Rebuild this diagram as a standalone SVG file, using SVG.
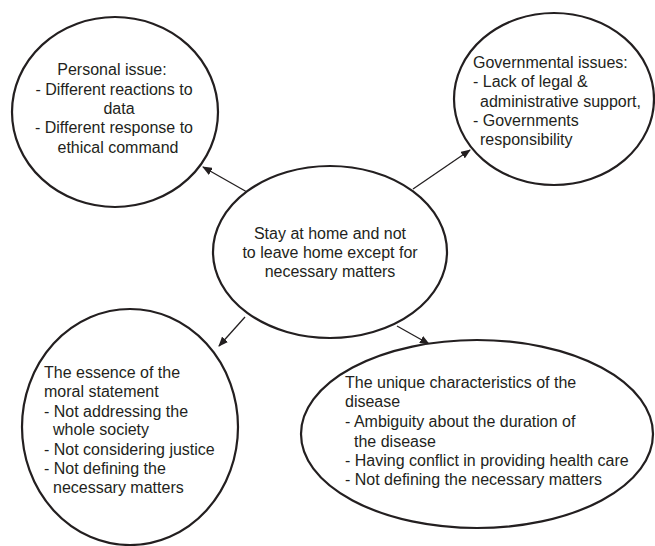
<svg xmlns="http://www.w3.org/2000/svg" width="655" height="546" viewBox="0 0 655 546">
<defs>
<marker id="ah" markerWidth="10" markerHeight="8" refX="9" refY="4" orient="auto" markerUnits="userSpaceOnUse">
<path d="M0,0 L10,4 L0,8 Z" fill="#231f20"/>
</marker>
<style>
.n{fill:#fff;stroke:#231f20;stroke-width:2.2}
.t{font-family:"Liberation Sans",Arial,sans-serif;font-size:16px;fill:#231f20}
.m{text-anchor:middle}
.c{stroke:#231f20;stroke-width:1.3;fill:none;marker-end:url(#ah)}
</style>
</defs>
<rect width="655" height="546" fill="#fff"/>
<g id="connectors">
<line class="c" x1="247" y1="192" x2="203" y2="167"/>
<line class="c" x1="413" y1="189" x2="470" y2="150"/>
<line class="c" x1="245" y1="317" x2="219" y2="346"/>
<line class="c" x1="397" y1="326" x2="429" y2="344"/>
</g>
<g id="personal">
<ellipse class="n" cx="115" cy="112" rx="103" ry="95"/>
<text class="t m" x="112" y="75">Personal issue:</text>
<text class="t m" x="114" y="95">- Different reactions to</text>
<text class="t m" x="119" y="114">data</text>
<text class="t m" x="114" y="133">- Different response to</text>
<text class="t m" x="118" y="153">ethical command</text>
</g>
<g id="governmental">
<ellipse class="n" cx="554" cy="99" rx="100" ry="86"/>
<text class="t" x="473" y="68">Governmental issues:</text>
<text class="t" x="473" y="87">- Lack of legal &amp;</text>
<text class="t" x="480" y="107">administrative support,</text>
<text class="t" x="473" y="126">- Governments</text>
<text class="t" x="480" y="145">responsibility</text>
</g>
<g id="center">
<ellipse class="n" cx="330" cy="252" rx="117" ry="86"/>
<text class="t m" x="330" y="239">Stay at home and not</text>
<text class="t m" x="330" y="258">to leave home except for</text>
<text class="t m" x="330" y="277">necessary matters</text>
</g>
<g id="moral">
<ellipse class="n" cx="130" cy="427" rx="108" ry="118"/>
<text class="t" x="44" y="378">The essence of the</text>
<text class="t" x="44" y="397">moral statement</text>
<text class="t" x="44" y="417">- Not addressing the</text>
<text class="t" x="53" y="435">whole society</text>
<text class="t" x="44" y="455">- Not considering justice</text>
<text class="t" x="44" y="474">- Not defining the</text>
<text class="t" x="53" y="493">necessary matters</text>
</g>
<g id="disease">
<ellipse class="n" cx="477" cy="434" rx="176" ry="94"/>
<text class="t" x="345" y="388">The unique characteristics of the</text>
<text class="t" x="345" y="407">disease</text>
<text class="t" x="345" y="427">- Ambiguity about the duration of</text>
<text class="t" x="354" y="447">the disease</text>
<text class="t" x="345" y="466">- Having conflict in providing health care</text>
<text class="t" x="345" y="485">- Not defining the necessary matters</text>
</g>
</svg>
